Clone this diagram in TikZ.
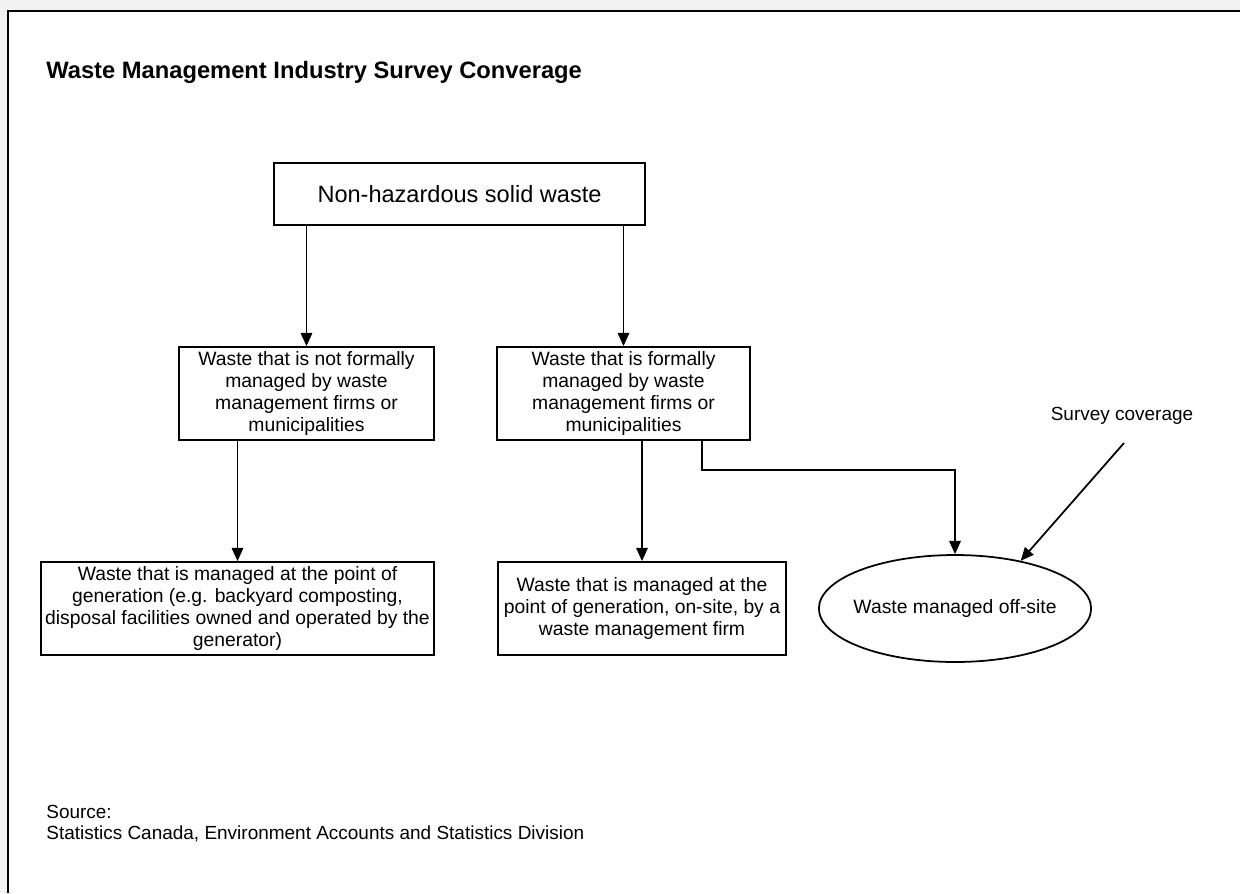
\documentclass[tikz,border=0pt]{standalone}
\usepackage{fontspec}
\setmainfont{Liberation Sans}
\usetikzlibrary{positioning}
\usetikzlibrary{arrows.meta,shapes}
\tikzstyle{box}=[rectangle,draw,line width=1pt,fill=white,align=center,inner sep=2pt,font=\fontsize{11}{12.5}\selectfont]
\tikzstyle{oval}=[ellipse,draw,line width=1pt,fill=white,inner sep=0pt,inner xsep=-3pt,font=\fontsize{11}{12.5}\selectfont]
\tikzstyle{flow}=[draw,line width=1pt,-{Triangle[length=7.5pt,width=6.5pt]}]
\tikzstyle{caption}=[inner sep=0pt,font=\fontsize{10.8}{12}\selectfont]

\begin{document}
\begin{tikzpicture}[x=0.02cm,y=-0.02cm]
    \useasboundingbox (0,0) rectangle (1240,893);

    % Page frame
    \fill[black!5] (0,0) rectangle (1240,893);
    \fill[white] (8,11) rectangle (1240,893);
    \draw[line width=1.2pt] (8,893) |- (1240,11);

    \node[anchor=west,inner sep=0pt,font=\fontsize{13.5}{15}\selectfont\bfseries] (title) at (46,72) {Waste Management Industry Survey Converage};

    % First we draw the boxes
    \node[box,minimum width=7.42cm,minimum height=1.24cm,font=\fontsize{13.4}{16}\selectfont] (solid) at (459.5,194) {Non-hazardous solid waste};
    \node[box,minimum width=5.1cm,minimum height=1.86cm] (informal) at (306.5,393.5) {Waste that is not formally\\managed by waste\\management firms or\\municipalities};
    \node[box,minimum width=5.06cm,minimum height=1.86cm] (formal) at (623.5,393.5) {Waste that is formally\\managed by waste\\management firms or\\municipalities};
    \node[box,minimum width=7.86cm,minimum height=1.86cm] (generator) at (237.5,608.5) {Waste that is managed at the point of\\generation (e.g. backyard composting,\\disposal facilities owned and operated by the\\generator)};
    \node[box,minimum width=5.76cm,minimum height=1.86cm] (onsite) at (642,608.5) {Waste that is managed at the\\point of generation, on-site, by a\\waste management firm};
    \node[oval,minimum width=5.4cm,minimum height=2.14cm] (offsite) at (955,608.5) {Waste managed off-site};

    % Connect boxes with arrows
    \foreach \source/\dest in {solid/informal, solid/formal, informal/generator, formal/onsite}
        \path[flow] (\source.south -| \dest.north) -- (\dest.north);
    \path[flow] ([xshift=1.57cm]formal.south) -- ++(0,29) -| (offsite.north);

    \node[caption] (coverage) at (1122,416) {Survey coverage};
    \coordinate (covtail) at (1124,443);
    \path[flow] (covtail) -- (offsite.36);

    \node[caption,anchor=north west,align=left] (source) at (46,805) {Source:\\Statistics Canada, Environment Accounts and Statistics Division};
\end{tikzpicture}
\end{document}
